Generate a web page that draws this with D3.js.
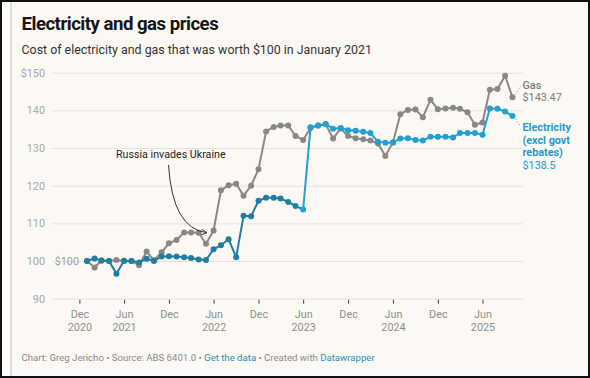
<!DOCTYPE html>
<html>
<head>
<meta charset="utf-8">
<script src="https://cdn.jsdelivr.net/npm/d3@7"></script>
<style>
  html, body { margin: 0; padding: 0; background: #fff; }
  #frame { position: relative; width: 590px; height: 378px; box-sizing: border-box; border: 2px solid #111; background: #fcf9f5; overflow: hidden; }
  svg { position: absolute; left: -2px; top: -2px; }
  text { font-family: Roboto, "Noto Sans", sans-serif; }
</style>
</head>
<body>
<div id="frame"></div>
<script>
// ---------- DATA ----------
const months = [
  "2021-01","2021-02","2021-03","2021-04","2021-05","2021-06","2021-07","2021-08","2021-09","2021-10","2021-11","2021-12",
  "2022-01","2022-02","2022-03","2022-04","2022-05","2022-06","2022-07","2022-08","2022-09","2022-10","2022-11","2022-12",
  "2023-01","2023-02","2023-03","2023-04","2023-05","2023-06","2023-07","2023-08","2023-09","2023-10","2023-11","2023-12",
  "2024-01","2024-02","2024-03","2024-04","2024-05","2024-06","2024-07","2024-08","2024-09","2024-10","2024-11","2024-12",
  "2025-01","2025-02","2025-03","2025-04","2025-05","2025-06","2025-07","2025-08","2025-09","2025-10"
];
const gas = [
  100, 98.3, 100.2, 100, 100.3, 100, 100, 98.9, 102.5, 100.2, 102.3, 104.7,
  105.6, 107.6, 107.6, 107.5, 104.6, 108.1, 118.8, 120.1, 120.5, 117.3, 120, 124.4,
  134.4, 135.6, 136, 136, 133.2, 132.1, 135.3, 136, 136.3, 132.5, 135.2, 133.2,
  132.6, 132.3, 132, 131.2, 127.9, 131.5, 139, 140.1, 140.2, 138.2, 142.8, 140.3,
  140.5, 140.7, 140.4, 139.5, 136.2, 136.8, 145.5, 145.7, 149.2, 143.47
];
const electricity = [
  100, 100.7, 100.1, 100, 96.6, 100.1, 100, 99.6, 100.6, 100, 101.2, 101.3,
  101.2, 101, 100.8, 100.4, 100.3, 103.1, 104.2, 105.8, 101, 112, 111.9, 116,
  116.8, 116.8, 116.6, 115.7, 114.6, 113.7, 135.5, 136, 136.4, 135.1, 135.3, 134.7,
  134.6, 134.3, 134, 131.7, 131.4, 131.5, 132.5, 132.6, 132.1, 132, 133, 133,
  133, 132.8, 134, 134, 134, 133.5, 140.5, 140.4, 139.7, 138.5
];
const yTicks = [90, 100, 110, 120, 130, 140, 150];
const xTickMonths = ["2020-12","2021-06","2021-12","2022-06","2022-12","2023-06","2023-12","2024-06","2024-12","2025-06"];
const xTickLabels = [["Dec","2020"],["Jun","2021"],["Dec",""],["Jun","2022"],["Dec",""],["Jun","2023"],["Dec",""],["Jun","2024"],["Dec",""],["Jun","2025"]];
const brightFrom = "2023-06"; // electricity drawn brighter from here on
const annotationText = "Russia invades Ukraine";
const gasLabel = ["Gas", "$143.47"];
const elecLabel = ["Electricity", "(excl govt", "rebates)", "$138.5"];

// ---------- SETUP ----------
const W = 590, H = 378;
const parse = d3.timeParse("%Y-%m");
const svg = d3.select("#frame").append("svg").attr("width", W).attr("height", H);

// left pale strip + gray rule
svg.append("rect").attr("x", 2).attr("y", 0).attr("width", 8).attr("height", H).attr("fill", "#fefdfb");
svg.append("rect").attr("x", 10).attr("y", 0).attr("width", 2).attr("height", H).attr("fill", "#e2dfda");

const x = d3.scaleTime().domain([parse("2020-12"), parse("2025-06")]).range([79.4, 482.5]);
const y = d3.scaleLinear().domain([90, 150]).range([298.7, 72.7]);
const gridL = 52, gridR = 523;

// Title & subtitle
svg.append("text").attr("x", 21.5).attr("y", 29.5).attr("font-size", 18.6).attr("font-weight", 700)
  .attr("letter-spacing", -0.5).attr("fill", "#161616").text("Electricity and gas prices");
svg.append("text").attr("x", 21.5).attr("y", 54).attr("font-size", 12.4)
  .attr("fill", "#333").text("Cost of electricity and gas that was worth $100 in January 2021");

// Y axis with gridlines
const yAxis = svg.append("g").attr("transform", `translate(${gridL},0)`)
  .call(d3.axisLeft(y).tickValues(yTicks).tickSize(-(gridR - gridL)).tickPadding(7)
    .tickFormat(d => d === 150 ? "$150" : d));
yAxis.select(".domain").remove();
yAxis.selectAll(".tick line").attr("stroke", "#e6e2dc").attr("stroke-width", 1);
yAxis.selectAll(".tick text").attr("fill", "#a8a8a8").attr("font-size", 10.8)
  .attr("font-family", "Roboto, sans-serif");

// X axis ticks + two-line labels
const xAxis = svg.append("g").attr("transform", `translate(0,${y(90)})`)
  .call(d3.axisBottom(x).tickValues(xTickMonths.map(parse)).tickSize(4).tickFormat(""));
xAxis.select(".domain").remove();
xAxis.selectAll(".tick line").attr("stroke", "#444").attr("stroke-width", 1).attr("y1", 1).attr("y2", 5);
xAxis.selectAll(".tick").each(function(d, i) {
  const t = d3.select(this).append("text").attr("text-anchor", "middle")
    .attr("fill", "#8f8f8f").attr("font-size", 10.8).attr("font-family", "Roboto, sans-serif");
  t.append("tspan").attr("x", 0).attr("y", 19).text(xTickLabels[i][0]);
  if (xTickLabels[i][1]) t.append("tspan").attr("x", 0).attr("y", 32.5).text(xTickLabels[i][1]);
});

// $100 start label
svg.append("text").attr("x", x(parse(months[0])) - 8).attr("y", y(100)).attr("dy", "0.35em")
  .attr("text-anchor", "end").attr("font-size", 10.8).attr("fill", "#a0a0a0").text("$100");

// Lines
const gasData = months.map((m, i) => ({ d: parse(m), v: gas[i] }));
const elData = months.map((m, i) => ({ d: parse(m), v: electricity[i], m }));
const line = d3.line().x(p => x(p.d)).y(p => y(p.v));

const gasCol = "#888888", elDark = "#1f7fa3", elBright = "#22a0d3";

svg.append("path").datum(gasData).attr("d", line).attr("fill", "none").attr("stroke", gasCol)
  .attr("stroke-width", 2).attr("stroke-linejoin", "round");
svg.selectAll(".gdot").data(gasData).enter().append("circle")
  .attr("cx", p => x(p.d)).attr("cy", p => y(p.v)).attr("r", 3).attr("fill", gasCol);

const bi = months.indexOf(brightFrom);
svg.append("path").datum(elData.slice(0, bi + 1)).attr("d", line).attr("fill", "none").attr("stroke", elDark)
  .attr("stroke-width", 2).attr("stroke-linejoin", "round");
svg.append("path").datum(elData.slice(bi)).attr("d", line).attr("fill", "none").attr("stroke", elBright)
  .attr("stroke-width", 2).attr("stroke-linejoin", "round");
svg.selectAll(".edot").data(elData).enter().append("circle")
  .attr("cx", p => x(p.d)).attr("cy", p => y(p.v)).attr("r", 3)
  .attr("fill", (p, i) => i >= bi ? elBright : elDark);

// Annotation
const defs = svg.append("defs");
defs.append("marker").attr("id", "arr").attr("viewBox", "0 0 10 10").attr("refX", 9).attr("refY", 5)
  .attr("markerWidth", 7).attr("markerHeight", 7).attr("orient", "auto-start-reverse")
  .append("path").attr("d", "M1,1 L9,5 L1,9").attr("fill", "none").attr("stroke", "#333").attr("stroke-width", 1.3);
svg.append("text").attr("x", 116).attr("y", 158).attr("font-size", 10.7).attr("fill", "#222").text(annotationText);
const ax0 = 168.5, ay0 = 165;
const ax1 = x(parse("2022-05")) + 1, ay1 = y(gas[months.indexOf("2022-05")]) - 11;
svg.append("path").attr("d", `M${ax0},${ay0} Q${ax0 + 4},${ay1 - 4} ${ax1},${ay1}`)
  .attr("fill", "none").attr("stroke", "#333").attr("stroke-width", 1).attr("marker-end", "url(#arr)");

// End labels
const lastI = months.length - 1;
const lx = x(parse(months[lastI])), gy = y(gas[lastI]), ey = y(electricity[lastI]);
const labX = 522.5;
svg.append("line").attr("x1", lx + 3).attr("y1", gy - 3).attr("x2", labX - 2).attr("y2", gy - 11)
  .attr("stroke", "#999").attr("stroke-dasharray", "1,2");
svg.append("line").attr("x1", lx + 3).attr("y1", ey + 3).attr("x2", labX - 2).attr("y2", ey + 10)
  .attr("stroke", elBright).attr("stroke-dasharray", "1,2");
const gt = svg.append("text").attr("font-size", 10.8).attr("fill", "#7d7d7d");
gt.append("tspan").attr("x", labX).attr("y", gy - 8).attr("font-weight", 500).text(gasLabel[0]);
gt.append("tspan").attr("x", labX).attr("y", gy + 4).text(gasLabel[1]);
const et = svg.append("text").attr("font-size", 10.8).attr("fill", "#1d9bcf");
elecLabel.forEach((s, i) => {
  et.append("tspan").attr("x", labX).attr("y", ey + 15 + i * 12.7)
    .attr("font-weight", i < 3 ? 700 : 400).text(s);
});

// Footer
const ft = svg.append("text").attr("x", 21.5).attr("y", 361).attr("font-size", 9.6).attr("fill", "#8a8a8a");
ft.append("tspan").text("Chart: Greg Jericho • Source: ABS 6401.0 • ");
ft.append("tspan").attr("fill", "#2a8cc0").text("Get the data");
ft.append("tspan").text(" • Created with ");
ft.append("tspan").attr("fill", "#2a8cc0").text("Datawrapper");
</script>
</body>
</html>
